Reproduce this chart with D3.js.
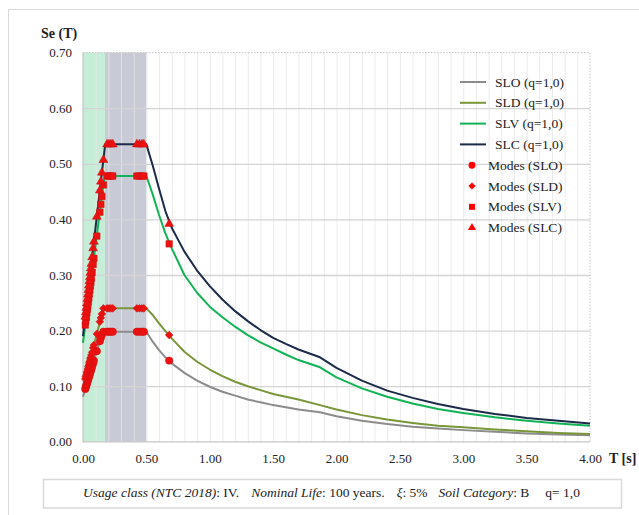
<!DOCTYPE html>
<html>
<head>
<meta charset="utf-8">
<script src="https://cdn.jsdelivr.net/npm/d3@7"></script>
<style>
  body { margin: 0; background: #fff; }
  svg text { font-family: "Liberation Serif", "Times New Roman", serif; fill: #222; }
</style>
</head>
<body>
<div id="chart"></div>
<script>
'use strict';

const serif = '"Liberation Serif", "Times New Roman", serif';

// spectrum periods [s] (shared by the four curves)
const periods = [0, 0.155, 0.16, 0.17, 0.175, 0.50, 0.55, 0.60, 0.65, 0.70, 0.80, 0.90, 1.00,
  1.10, 1.20, 1.30, 1.40, 1.50, 1.60, 1.70, 1.87, 2.00, 2.20, 2.40, 2.60, 2.80, 3.00,
  3.25, 3.50, 3.75, 4.00];

const sloValues = [0.081, 0.198, 0.198, 0.198, 0.198, 0.198, 0.180, 0.165, 0.152, 0.141, 0.124, 0.110, 0.099,
  0.090, 0.083, 0.076, 0.071, 0.066, 0.062, 0.058, 0.053, 0.046, 0.038, 0.032, 0.027, 0.024, 0.021,
  0.018, 0.015, 0.013, 0.012];
const sldValues = [0.097, 0.235, 0.240, 0.240, 0.240, 0.240, 0.228, 0.213, 0.199, 0.186, 0.162, 0.144, 0.130,
  0.118, 0.108, 0.100, 0.093, 0.086, 0.081, 0.076, 0.066, 0.058, 0.048, 0.040, 0.034, 0.029, 0.026,
  0.022, 0.019, 0.016, 0.014];
const slvValues = [0.178, 0.452, 0.461, 0.478, 0.478, 0.478, 0.445, 0.408, 0.375, 0.348, 0.300, 0.268, 0.243,
  0.224, 0.207, 0.192, 0.179, 0.168, 0.157, 0.147, 0.134, 0.116, 0.096, 0.081, 0.069, 0.059, 0.052,
  0.044, 0.038, 0.033, 0.029];
const slcValues = [0.190, 0.496, 0.506, 0.525, 0.535, 0.535, 0.497, 0.455, 0.415, 0.385, 0.342, 0.308, 0.280,
  0.256, 0.235, 0.217, 0.201, 0.187, 0.176, 0.166, 0.152, 0.133, 0.110, 0.092, 0.079, 0.068, 0.059,
  0.050, 0.043, 0.038, 0.033];

// modal periods and their spectral values
const modeT = [0.018, 0.022, 0.026, 0.030, 0.034, 0.038, 0.042, 0.046, 0.050, 0.054, 0.058, 0.062,
  0.066, 0.072, 0.080, 0.086, 0.109, 0.133, 0.141, 0.149, 0.161, 0.190, 0.205, 0.220, 0.235,
  0.425, 0.445, 0.465, 0.480, 0.680];
const modesSLO = [0.095, 0.098, 0.101, 0.104, 0.107, 0.110, 0.113, 0.116, 0.119, 0.122, 0.125, 0.128,
  0.131, 0.135, 0.141, 0.146, 0.163, 0.181, 0.187, 0.193, 0.198, 0.198, 0.198, 0.198, 0.198,
  0.198, 0.198, 0.198, 0.198, 0.146];
const modesSLD = [0.113, 0.117, 0.120, 0.124, 0.127, 0.131, 0.135, 0.138, 0.142, 0.145, 0.149, 0.152,
  0.156, 0.161, 0.169, 0.174, 0.194, 0.216, 0.223, 0.230, 0.240, 0.240, 0.240, 0.240, 0.240,
  0.240, 0.240, 0.240, 0.240, 0.192];
const modesSLV = [0.210, 0.217, 0.224, 0.231, 0.238, 0.245, 0.252, 0.259, 0.266, 0.273, 0.280, 0.287,
  0.294, 0.305, 0.319, 0.330, 0.370, 0.413, 0.427, 0.441, 0.462, 0.478, 0.478, 0.478, 0.478,
  0.478, 0.478, 0.478, 0.478, 0.356];
const modesSLC = [0.225, 0.233, 0.241, 0.249, 0.257, 0.265, 0.273, 0.281, 0.289, 0.296, 0.304, 0.312,
  0.320, 0.332, 0.348, 0.360, 0.405, 0.452, 0.468, 0.484, 0.507, 0.535, 0.535, 0.535, 0.535,
  0.535, 0.535, 0.535, 0.535, 0.392];

const seriesNames = ['SLO (q=1,0)', 'SLD (q=1,0)', 'SLV (q=1,0)', 'SLC (q=1,0)'];
const modeNames = ['Modes (SLO)', 'Modes (SLD)', 'Modes (SLV)', 'Modes (SLC)'];
const bandT = [0, 0.174, 0.50];   // T_B, T_C shading
const yTicks = [0, 0.1, 0.2, 0.3, 0.4, 0.5, 0.6, 0.7];
const xTicks = [0, 0.5, 1, 1.5, 2, 2.5, 3, 3.5, 4];

const colors = ['#8c8c8c', '#7a963a', '#12b356', '#1c2b48'];
const symbols = [d3.symbolCircle, d3.symbolSquare, d3.symbolSquare, d3.symbolTriangle];
const symSize = [44, 30, 42, 34];
const symRot = [0, 45, 0, 0];
const markRed = '#ee1111';

const W = 639, H = 515;
const svg = d3.select('#chart').append('svg')
  .attr('width', W)
  .attr('height', H);

// outer frame
svg.append('path')
  .attr('d', 'M8.5,' + H + 'V9.5H' + W)
  .attr('fill', 'none')
  .attr('stroke', '#d9d9d9');

const x = d3.scaleLinear().domain([0, 4]).range([83, 590]);
const y = d3.scaleLinear().domain([0, 0.7]).range([441.8, 52.6]);

// shaded bands
svg.append('rect')
  .attr('x', x(bandT[0])).attr('y', y(0.7))
  .attr('width', x(bandT[1]) - x(bandT[0])).attr('height', y(0) - y(0.7))
  .attr('fill', '#c6edd8');
svg.append('rect')
  .attr('x', x(bandT[1])).attr('y', y(0.7))
  .attr('width', x(bandT[2]) - x(bandT[1])).attr('height', y(0) - y(0.7))
  .attr('fill', '#c8cad6');

// vertical minor grid every 0.1 s
svg.append('g')
  .attr('transform', 'translate(0,' + y(0) + ')')
  .call(d3.axisBottom(x).tickValues(d3.range(1, 40).map(i => i / 10))
    .tickSize(-(y(0) - y(0.7))).tickFormat(''))
  .call(g => g.select('.domain').remove())
  .call(g => g.selectAll('line').attr('stroke', '#e6e6e6').attr('stroke-opacity', 0.8));

// horizontal grid
svg.append('g')
  .attr('transform', 'translate(' + x(0) + ',0)')
  .call(d3.axisLeft(y).tickValues(yTicks.slice(1, -1)).tickSize(-(x(4) - x(0))).tickFormat(''))
  .call(g => g.select('.domain').remove())
  .call(g => g.selectAll('line').attr('stroke', '#d4d4d4').attr('stroke-width', 1.3));

// plot frame: dotted top/right, solid left/bottom
svg.append('path')
  .attr('d', `M${x(0)},${y(0.7)}H${x(4)}V${y(0)}`)
  .attr('fill', 'none').attr('stroke', '#c4c4c4').attr('stroke-dasharray', '1.5,1.5');
svg.append('path')
  .attr('d', `M${x(0)},${y(0.7)}V${y(0)}H${x(4)}`)
  .attr('fill', 'none').attr('stroke', '#c8c8c8').attr('stroke-width', 1.3);

// tick labels
svg.append('g')
  .attr('transform', 'translate(' + x(0) + ',0)')
  .call(d3.axisLeft(y).tickValues(yTicks).tickFormat(d3.format('.2f')).tickSize(0).tickPadding(11))
  .attr('font-family', serif)
  .attr('font-size', 13)
  .call(g => g.select('.domain').remove());

svg.append('g')
  .attr('transform', 'translate(0,' + y(0) + ')')
  .call(d3.axisBottom(x).tickValues(xTicks).tickFormat(d3.format('.2f')).tickSize(0).tickPadding(12))
  .attr('font-family', serif)
  .attr('font-size', 13)
  .call(g => g.select('.domain').remove());

svg.selectAll('.tick text')
  .attr('fill', '#222')
  .style('font-family', serif)
  .style('font-size', '13px');

svg.append('text').attr('x', 41).attr('y', 38)
  .style('font-size', '14px').style('font-weight', 'bold').text('Se (T)');
svg.append('text').attr('x', 609).attr('y', 463)
  .style('font-size', '14px').style('font-weight', 'bold').text('T [s]');

// spectra
const allValues = [sloValues, sldValues, slvValues, slcValues];
const line = d3.line()
  .x((d, i) => x(periods[i]))
  .y(d => y(d));

svg.selectAll('path.spectrum')
  .data(allValues)
  .enter()
  .append('path')
  .attr('class', 'spectrum')
  .attr('d', line)
  .attr('fill', 'none')
  .attr('stroke', (d, i) => colors[i])
  .attr('stroke-width', 2)
  .attr('stroke-linejoin', 'round');

// modes
const allModes = [modesSLO, modesSLD, modesSLV, modesSLC];
allModes.forEach((vals, s) => {
  svg.append('g').selectAll('path')
    .data(vals)
    .enter()
    .append('path')
    .attr('d', d3.symbol().type(symbols[s]).size(symSize[s]))
    .attr('transform', (d, i) => `translate(${x(modeT[i])},${y(d)}) rotate(${symRot[s]})`)
    .attr('fill', markRed)
    .attr('stroke', '#c81010')
    .attr('stroke-width', 0.5);
});

// legend
const rowY = i => 82 + i * 20.8;
const leg = svg.append('g');
seriesNames.forEach((name, i) => {
  leg.append('line')
    .attr('x1', 460).attr('x2', 486)
    .attr('y1', rowY(i)).attr('y2', rowY(i))
    .attr('stroke', colors[i]).attr('stroke-width', 2);
  leg.append('text')
    .attr('x', 495).attr('y', rowY(i)).attr('dy', '0.34em')
    .style('font-size', '13.5px').text(name);
});
modeNames.forEach((name, i) => {
  const r = rowY(i + 4);
  leg.append('path')
    .attr('d', d3.symbol().type(symbols[i]).size(symSize[i] * 0.85))
    .attr('transform', `translate(472,${r}) rotate(${symRot[i]})`)
    .attr('fill', '#ff0000');
  leg.append('text')
    .attr('x', 488).attr('y', r).attr('dy', '0.34em')
    .style('font-size', '13.5px').text(name);
});

// caption box
svg.append('rect')
  .attr('x', 43.5).attr('y', 479.5).attr('width', 578).attr('height', 28.5)
  .attr('fill', '#fff').attr('stroke', '#d9d9d9').attr('stroke-width', 1.5);

const caption = [
  ['Usage class (NTC 2018)', true, 0],
  [': IV.', false, 0],
  ['Nominal Life', true, 12],
  [': 100 years.', false, 0],
  ['\u03be', true, 12],
  [': 5%', false, 0],
  ['Soil Category', true, 11],
  [': B', false, 0],
  ['q= 1,0', false, 16]
];
const cap = svg.append('text')
  .attr('x', 331.5).attr('y', 497)
  .attr('text-anchor', 'middle')
  .style('font-size', '13.5px');
cap.selectAll('tspan')
  .data(caption)
  .enter()
  .append('tspan')
  .attr('dx', d => d[2])
  .style('font-style', d => d[1] ? 'italic' : 'normal')
  .text(d => d[0]);
</script>
</body>
</html>
